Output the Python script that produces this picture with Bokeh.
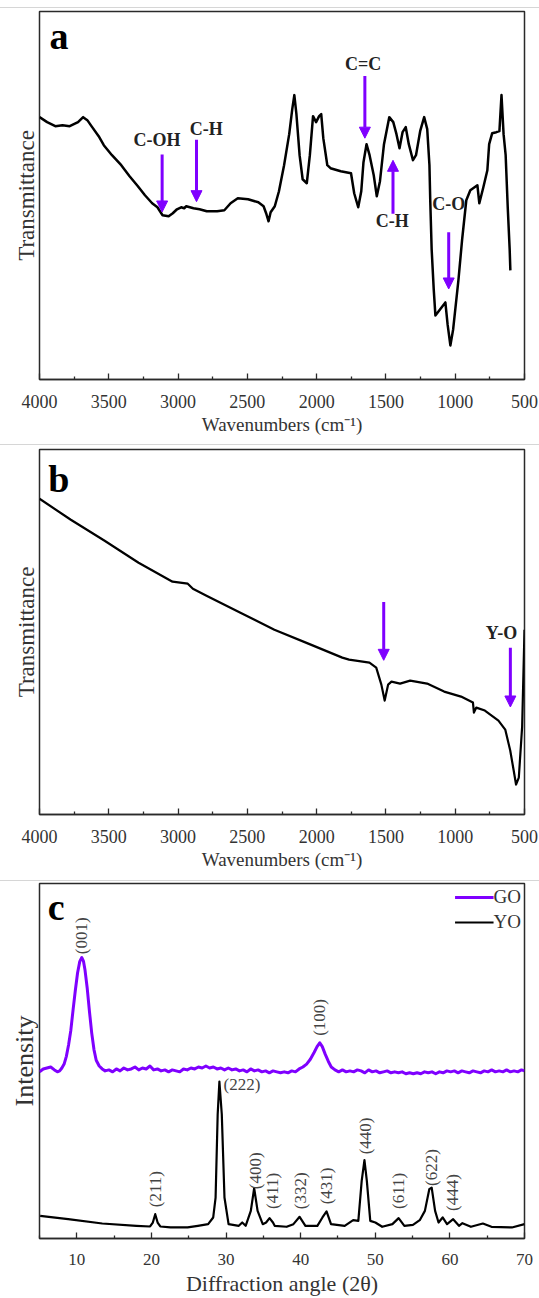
from bokeh.plotting import figure
from bokeh.models import (Range1d, FixedTicker, Arrow, NormalHead, ColumnDataSource,
                          Spacer, Legend, LegendItem)
from bokeh.layouts import column
from bokeh.embed import file_html
from bokeh.resources import INLINE
from bokeh.core.properties import value
from math import pi

FONT = "Liberation Serif"
PURPLE = "#7f00ff"
FRAME = "#2a2a2a"

# ---------------- panel a : FTIR of GO ----------------
a_wn = [4000, 3945, 3886, 3834, 3782, 3722, 3685, 3655, 3625, 3573,
        3536, 3477, 3410, 3350, 3290, 3239, 3187, 3149, 3112, 3068,
        3038, 3008, 2978, 2956, 2941, 2889, 2845, 2793, 2718, 2666,
        2621, 2569, 2495, 2421, 2383, 2362, 2347, 2332, 2302, 2272,
        2235, 2198, 2176, 2161, 2146, 2123, 2101, 2071, 2049, 2026,
        2004, 1982, 1967, 1952, 1923, 1900, 1826, 1752, 1729, 1700,
        1678, 1662, 1640, 1618, 1588, 1566, 1543, 1514, 1476, 1447,
        1424, 1402, 1380, 1357, 1335, 1305, 1283, 1253, 1224, 1202,
        1186, 1180, 1170, 1155, 1143, 1110, 1071, 1055, 1035, 1015,
        977, 950, 920, 891, 840, 826, 797, 768, 755, 733,
        703, 681, 666, 651, 636, 621, 607, 602]
a_T = [262, 257, 253, 254, 253, 257, 262, 259, 253, 243,
       234, 224, 214, 203, 193, 184, 176, 172, 164, 163,
       166, 170, 172, 171, 173, 171, 170, 168, 168, 169,
       176, 181, 180, 177, 173, 165, 158, 167, 173, 188,
       214, 245, 270, 284, 265, 224, 200, 196, 224, 263,
       257, 263, 265, 241, 214, 211, 208, 206, 186, 172,
       188, 217, 235, 224, 204, 183, 198, 235, 262, 257,
       245, 231, 247, 252, 235, 219, 224, 248, 262, 250,
       214, 178, 130, 90, 64, 70, 77, 55, 34, 50,
       99, 140, 179, 189, 194, 176, 192, 209, 235, 246,
       247, 248, 284, 245, 224, 172, 130, 109]
a_arrow_wn = [3115, 2867, 1652, 1449, 1047]
a_arrow_from = [224.7, 239.5, 303, 165.6, 147]
a_arrow_to = [167.3, 177.6, 241, 218.9, 90.4]
a_label_text = ["C-OH", "C-H", "C=C", "C-H", "C-O"]
a_label_wn = [3152, 2797, 1665, 1454, 1047]
a_label_T = [239.5, 249.9, 315, 158, 175.4]

# ---------------- panel b : FTIR of Y2O3 ----------------
b_wn = [4000, 3774, 3530, 3285, 3040, 2930, 2893, 2795, 2550, 2305,
        2060, 1815, 1766, 1619, 1570, 1533, 1509, 1484, 1460, 1398,
        1325, 1203, 1080, 958, 872, 865, 848, 786, 688, 639,
        603, 578, 561, 541, 517, 500]
b_T = [316, 295, 274, 252, 233, 231, 226, 219, 202, 185,
       171, 157, 155, 152, 147, 130, 114, 130, 133, 131,
       134, 131, 123, 118, 112, 102, 107, 104, 94, 85,
       64, 44, 30, 37, 88, 185]
b_arrow_wn = [1516, 602]
b_arrow_from = [212.6, 167]
b_arrow_to = [154.3, 107.6]
b_label_text = ["Y-O"]
b_label_wn = [666]
b_label_T = [181.6]

wn_ticks = [4000, 3500, 3000, 2500, 2000, 1500, 1000, 500]
wn_minor = [3750, 3250, 2750, 2250, 1750, 1250, 750]

# ---------------- panel c : XRD ----------------
go_angle = [5.0, 5.5, 6.0, 6.5, 7.0, 7.4, 7.7, 8.0, 8.3, 8.6,
            8.9, 9.2, 9.5, 9.8, 10.1, 10.4, 10.67, 10.9, 11.1, 11.4,
            11.7, 12.0, 12.3, 12.6, 13.0, 13.4, 13.8, 14.3, 14.8, 15.3,
            15.8, 16.3, 16.8, 17.3, 17.8, 18.3, 18.8, 19.3, 19.8, 20.3,
            20.8, 21.3, 21.8, 22.3, 22.8, 23.3, 23.8, 24.3, 24.8, 25.3,
            25.8, 26.3, 26.8, 27.3, 27.8, 28.3, 28.8, 29.3, 29.8, 30.3,
            30.8, 31.3, 31.8, 32.3, 32.8, 33.3, 33.8, 34.3, 34.8, 35.3,
            35.8, 36.3, 36.8, 37.3, 37.8, 38.3, 38.8, 39.3, 39.8, 40.3,
            40.8, 41.3, 41.8, 42.2, 42.56, 42.9, 43.3, 43.7, 44.1, 44.6,
            45.1, 45.6, 46.1, 46.6, 47.1, 47.6, 48.1, 48.6, 49.1, 49.6,
            50.1, 50.6, 51.1, 51.6, 52.1, 52.6, 53.1, 53.6, 54.1, 54.6,
            55.1, 55.6, 56.1, 56.6, 57.1, 57.6, 58.1, 58.6, 59.1, 59.6,
            60.1, 60.6, 61.1, 61.6, 62.1, 62.6, 63.1, 63.6, 64.1, 64.6,
            65.1, 65.6, 66.1, 66.6, 67.1, 67.6, 68.1, 68.6, 69.1, 69.6,
            70.0]
go_I = [172, 175, 176, 177, 174, 172, 173, 176, 180, 188,
        200, 215, 236, 256, 274, 286, 290, 286, 277, 258,
        234, 212, 195, 184, 178, 175, 173, 174, 172, 175,
        173, 176, 174, 175, 177, 174, 176, 175, 178, 174,
        175, 173, 174, 172, 174, 173, 172, 175, 174, 176,
        175, 177, 176, 178, 176, 177, 175, 176, 174, 176,
        174, 175, 173, 174, 172, 175, 173, 174, 172, 173,
        171, 173, 172, 171, 172, 171, 173, 172, 175, 177,
        180, 185, 192, 198, 202, 198, 190, 183, 177, 174,
        172, 174, 172, 173, 172, 174, 173, 171, 174, 172,
        173, 171, 172, 173, 171, 172, 171, 172, 170, 171,
        170, 171, 170, 172, 171, 172, 170, 172, 171, 173,
        172, 173, 171, 173, 172, 171, 173, 172, 171, 173,
        172, 174, 172, 173, 172, 174, 172, 173, 172, 174,
        173]
yo_angle = [5.09, 8.84, 13.41, 17.99, 19.82, 20.19, 20.51, 20.83, 21.19, 22.56,
            24.85, 26.22, 27.60, 28.28, 28.60, 28.88, 29.11, 29.43, 29.79, 30.34,
            31.71, 32.17, 32.63, 33.32, 33.77, 34.23, 34.92, 35.37, 35.83, 36.29,
            36.52, 38.12, 39.03, 39.86, 40.64, 42.24, 42.92, 43.47, 44.07, 45.90,
            47.04, 47.73, 48.18, 48.55, 48.87, 49.33, 50.01, 50.93, 52.30, 53.13,
            53.90, 55.05, 55.96, 56.65, 57.24, 57.56, 58.02, 58.48, 59.03, 59.62,
            60.44, 61.22, 61.68, 62.82, 64.42, 65.57, 68.31, 70.0]
yo_I = [23.4, 20.0, 15.5, 13.1, 12.4, 16.5, 25.1, 16.5, 12.4, 11.4,
        11.4, 13.1, 14.8, 21.7, 42.3, 128.2, 161.9, 128.2, 42.3, 14.8,
        13.1, 16.5, 13.1, 28.5, 51.9, 28.5, 14.8, 16.5, 21.0, 16.5,
        13.1, 12.1, 14.8, 22.4, 13.1, 13.1, 21.7, 27.9, 14.8, 13.1,
        18.9, 18.2, 59.5, 80.8, 59.5, 18.2, 16.5, 12.1, 14.8, 21.0,
        13.1, 14.1, 18.9, 28.5, 50.9, 52.6, 28.5, 16.5, 21.7, 14.8,
        19.9, 13.1, 15.8, 12.1, 15.5, 12.1, 11.4, 14.8]
hkl_text = ["(001)", "(100)", "(211)", "(400)", "(411)", "(332)",
            "(431)", "(440)", "(611)", "(622)", "(444)"]
hkl_angle = [10.67, 42.56, 20.51, 33.91, 36.29, 39.95, 43.52, 48.64, 53.13, 57.56, 60.31]
hkl_I = [312.5, 228.2, 50.9, 69.8, 49.2, 49.2, 54.3, 105.9, 49.2, 73.2, 47.5]
hkl_h_text = ["(222)"]
hkl_h_angle = [29.66]
hkl_h_I = [159.2]
ang_ticks = [10, 20, 30, 40, 50, 60, 70]
ang_minor = [5, 15, 25, 35, 45, 55, 65]

panel_letters = ["a", "b", "c"]
letter_pos_a = (3859, 342.7)
letter_pos_b = (3860, 336)
letter_pos_c = (7.24, 342)


def make_fig(height, xr, yr, top, bottom, right, ticks, minor, xlabel, ylabel,
             xlab_size, ylab_size, tick_size):
    p = figure(width=539, height=height, x_range=xr, y_range=yr,
               output_backend="svg", toolbar_location=None,
               min_border_left=39, min_border_right=right,
               min_border_top=top, min_border_bottom=bottom)
    p.xgrid.visible = False
    p.ygrid.visible = False
    p.outline_line_color = FRAME
    p.outline_line_width = 1.5
    p.background_fill_color = "white"
    p.border_fill_color = "white"
    xa = p.xaxis[0]
    xa.ticker = FixedTicker(ticks=ticks, minor_ticks=minor)
    xa.major_tick_in = 6
    xa.major_tick_out = 0
    xa.minor_tick_in = 3
    xa.minor_tick_out = 0
    xa.major_tick_line_color = FRAME
    xa.minor_tick_line_color = FRAME
    xa.major_tick_line_width = 1.3
    xa.minor_tick_line_width = 1.3
    xa.axis_line_color = FRAME
    xa.axis_line_width = 1.5
    xa.major_label_text_font = FONT
    xa.major_label_text_font_size = tick_size
    xa.major_label_text_color = "#333333"
    xa.major_label_standoff = 15
    xa.axis_label = xlabel
    xa.axis_label_text_font = FONT
    xa.axis_label_text_font_size = xlab_size
    xa.axis_label_text_font_style = "normal"
    xa.axis_label_text_color = "#333333"
    xa.axis_label_standoff = 3
    ya = p.yaxis[0]
    ya.ticker = FixedTicker(ticks=[])
    ya.major_tick_in = 0
    ya.major_tick_out = 0
    ya.minor_tick_in = 0
    ya.minor_tick_out = 0
    ya.axis_line_color = None
    ya.major_label_standoff = 0
    ya.axis_label = ylabel
    ya.axis_label_text_font = FONT
    ya.axis_label_text_font_size = ylab_size
    ya.axis_label_text_font_style = "normal"
    ya.axis_label_text_color = "#333333"
    ya.axis_label_standoff = 1
    return p


def add_arrows(p, xs, y0, y1):
    src = ColumnDataSource(dict(x0=xs, y0=y0, x1=xs, y1=y1))
    p.add_layout(Arrow(x_start="x0", y_start="y0", x_end="x1", y_end="y1",
                       source=src, line_color=PURPLE, line_width=3,
                       end=NormalHead(size=11, fill_color=PURPLE,
                                      line_color=PURPLE, line_width=1)))


# ---- figure a
pa = make_fig(436, Range1d(4000, 500), Range1d(0, 367.5), 3, 65, 15,
              wn_ticks, wn_minor, "Wavenumbers (cm\u207b\u00b9)", "Transmittance",
              "19px", "23px", "18px")
pa.line(a_wn, a_T, line_color="black", line_width=2.5, line_join="round")
add_arrows(pa, a_arrow_wn, a_arrow_from, a_arrow_to)
pa.text(a_label_wn, a_label_T, text=a_label_text, text_font=value(FONT),
        text_font_style="bold", text_font_size="18px", text_color="#222222",
        text_align="center", text_baseline="middle")
pa.text([letter_pos_a[0]], [letter_pos_a[1]], text=[panel_letters[0]],
        text_font=value(FONT), text_font_style="bold", text_font_size="38px",
        text_color="black", text_align="center", text_baseline="middle")

# ---- figure b
pb = make_fig(435, Range1d(4000, 500), Range1d(0, 365.3), 4, 66, 11,
              wn_ticks, wn_minor, "Wavenumbers (cm\u207b\u00b9)", "Transmittance",
              "19px", "23px", "18px")
pb.line(b_wn, b_T, line_color="black", line_width=2.2, line_join="round")
add_arrows(pb, b_arrow_wn, b_arrow_from, b_arrow_to)
pb.text(b_label_wn, b_label_T, text=b_label_text, text_font=value(FONT),
        text_font_style="bold", text_font_size="18px", text_color="#222222",
        text_align="center", text_baseline="middle")
pb.text([letter_pos_b[0]], [letter_pos_b[1]], text=[panel_letters[1]],
        text_font=value(FONT), text_font_style="bold", text_font_size="38px",
        text_color="black", text_align="center", text_baseline="middle")

# ---- figure c
pc = make_fig(417, Range1d(5, 70), Range1d(0, 366.4), 2, 48, 11,
              ang_ticks, ang_minor, "Diffraction angle (2\u03b8)", "Intensity",
              "22px", "26px", "17px")
go_r = pc.line(go_angle, go_I, line_color=PURPLE, line_width=3, line_join="round")
yo_r = pc.line(yo_angle, yo_I, line_color="black", line_width=2.2, line_join="round")
pc.text(hkl_angle, hkl_I, text=hkl_text, angle=pi / 2, text_font=value(FONT),
        text_font_size="17px", text_color="#444444",
        text_align="center", text_baseline="middle")
pc.text(hkl_h_angle, hkl_h_I, text=hkl_h_text, text_font=value(FONT),
        text_font_size="17px", text_color="#444444",
        text_align="left", text_baseline="middle")
pc.text([letter_pos_c[0]], [letter_pos_c[1]], text=[panel_letters[2]],
        text_font=value(FONT), text_font_style="bold", text_font_size="38px",
        text_color="black", text_align="center", text_baseline="middle")
legend = Legend(items=[LegendItem(label="GO", renderers=[go_r]),
                       LegendItem(label="YO", renderers=[yo_r])],
                location="top_right", border_line_color=None,
                background_fill_alpha=0, label_text_font=FONT,
                label_text_font_size="19px", label_text_color="#333333",
                glyph_width=39, glyph_height=20, label_standoff=0,
                padding=4, margin=3, spacing=3)
pc.add_layout(legend)


def sep(h, color):
    return Spacer(width=539, height=h, styles={"background-color": color})


layout = column(sep(7, "white"), sep(1, "#d6d6d6"), pa, sep(1, "#d6d6d6"), pb,
                sep(1, "#d6d6d6"), pc, spacing=0)

open("out.html", "w").write(file_html(layout, INLINE))
